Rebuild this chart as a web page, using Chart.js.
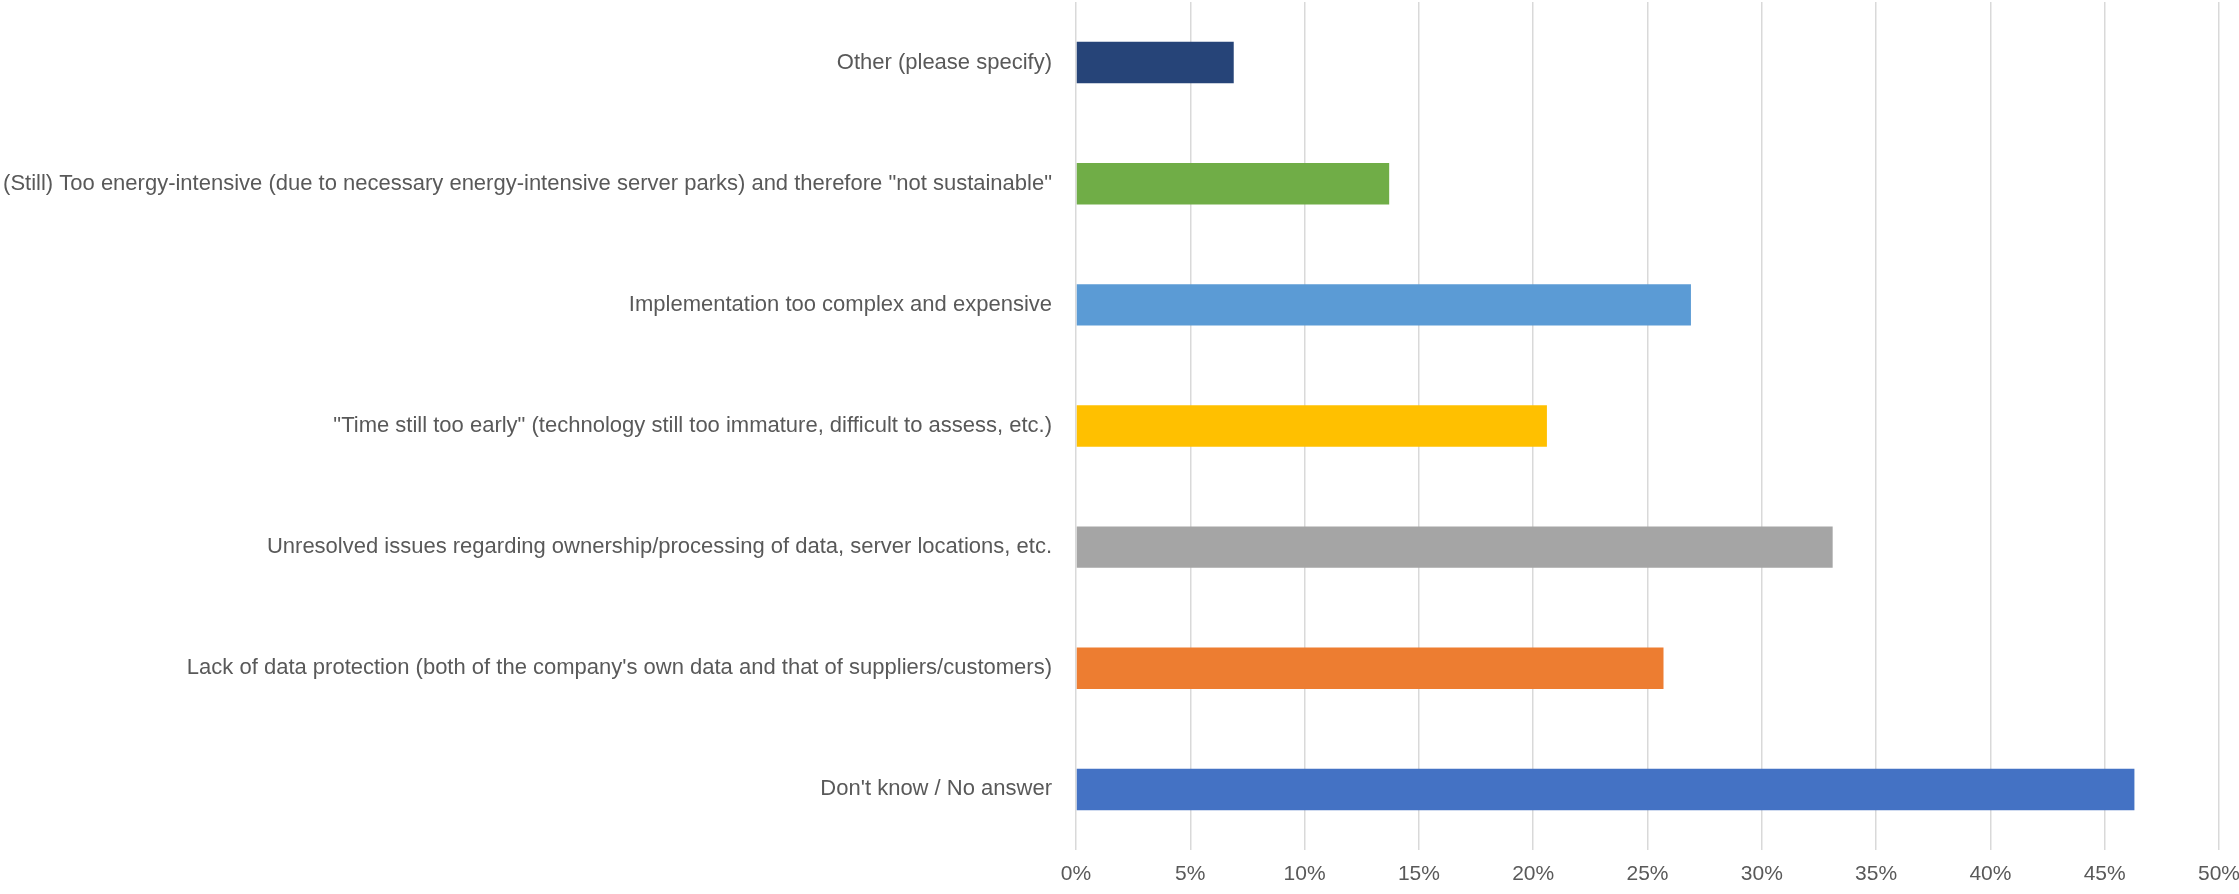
<!DOCTYPE html>
<html>
<head>
<meta charset="utf-8">
<script src="https://cdn.jsdelivr.net/npm/chart.js@4"></script>
<style>
    html, body { margin: 0; padding: 0; background: #ffffff; }
    #chart { display: block; }
</style>
</head>
<body>
<canvas id="chart" width="2239" height="894"></canvas>
<script>
// categories, top to bottom as shown
const categories = [
    'Other (please specify)',
    '(Still) Too energy-intensive (due to necessary energy-intensive server parks) and therefore "not sustainable"',
    'Implementation too complex and expensive',
    '"Time still too early" (technology still too immature, difficult to assess, etc.)',
    'Unresolved issues regarding ownership/processing of data, server locations, etc.',
    "Lack of data protection (both of the company's own data and that of suppliers/customers)",
    "Don't know / No answer"
];
const shares = [6.9, 13.7, 26.9, 20.6, 33.1, 25.7, 46.3];
const barColors = ['#264478', '#70AD47', '#5B9BD5', '#FFC000', '#A5A5A5', '#ED7D31', '#4472C4'];
const tickValues = [0, 5, 10, 15, 20, 25, 30, 35, 40, 45, 50];

const fontFamily = "'Liberation Sans', 'DejaVu Sans', sans-serif";

document.addEventListener('DOMContentLoaded', function() {
    const ctx = document.getElementById('chart');
    new Chart(ctx, {
        type: 'bar',
        data: {
            labels: categories,
            datasets: [{
                data: shares,
                backgroundColor: barColors,
                borderWidth: 0,
                categoryPercentage: 1,
                barPercentage: 0.342
            }]
        },
        options: {
            indexAxis: 'y',
            responsive: false,
            animation: false,
            layout: { padding: { top: 2, right: 20, left: 0, bottom: 0 } },
            plugins: {
                legend: { display: false },
                tooltip: { enabled: false }
            },
            scales: {
                x: {
                    min: 0,
                    max: 50,
                    afterBuildTicks: function(scale) {
                        scale.ticks = tickValues.map(v => ({ value: v }));
                    },
                    afterFit: function(scale) {
                        scale.height = 44;
                        scale.paddingRight = 0;
                    },
                    grid: { color: '#D9D9D9', lineWidth: 1.5, drawTicks: false },
                    border: { display: false },
                    ticks: {
                        padding: 12,
                        color: '#595959',
                        font: { family: fontFamily, size: 21 },
                        callback: v => v + '%'
                    }
                },
                y: {
                    afterFit: function(scale) {
                        scale.width = 1076;
                        scale.paddingTop = 0;
                        scale.paddingBottom = 0;
                    },
                    grid: { display: false, drawTicks: false },
                    border: { display: false },
                    ticks: {
                        padding: 24,
                        color: '#595959',
                        font: { family: fontFamily, size: 22 }
                    }
                }
            }
        }
    });
});
</script>
</body>
</html>
